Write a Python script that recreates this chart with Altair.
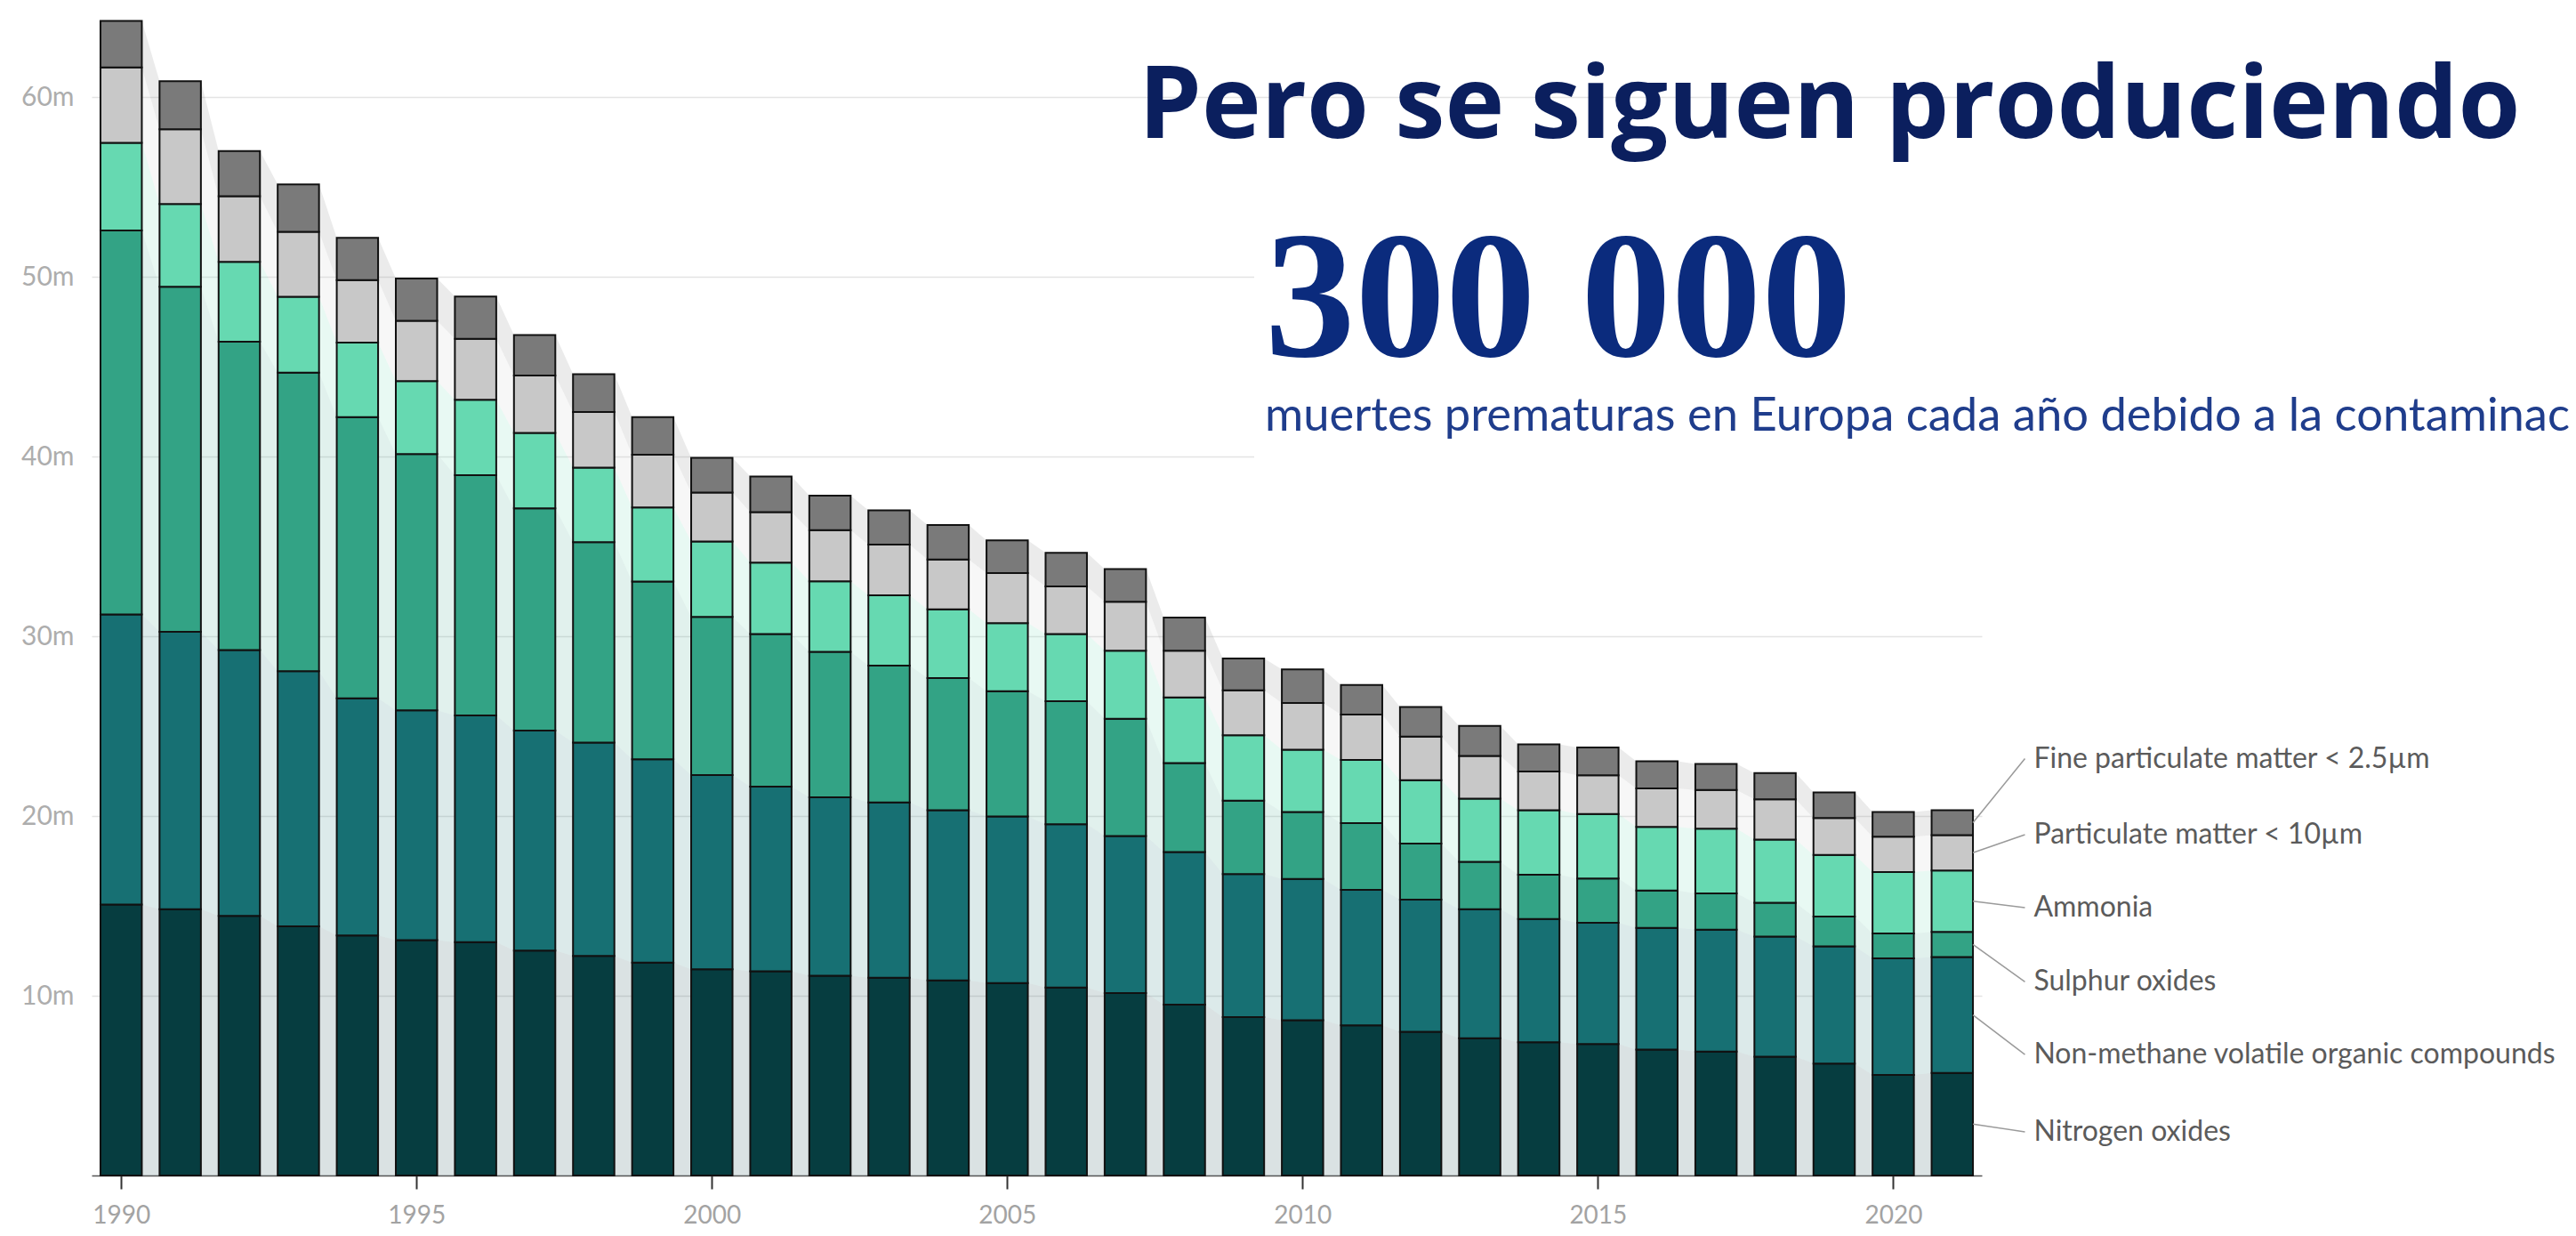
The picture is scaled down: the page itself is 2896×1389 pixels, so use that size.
import altair as alt
import pandas as pd

# ---------------- data ----------------
years = list(range(1990, 2022))
pollutants = [
    "Nitrogen oxides",
    "Non-methane volatile organic compounds",
    "Sulphur oxides",
    "Ammonia",
    "Particulate matter < 10µm",
    "Fine particulate matter < 2.5µm",
]
colors = ["#063d40", "#177073", "#33a385", "#66d9b1", "#c8c8c8", "#7a7a7a"]

nox = [15.07, 14.82, 14.44, 13.86, 13.35, 13.10, 12.98, 12.51, 12.22, 11.84,
       11.47, 11.36, 11.12, 11.00, 10.85, 10.70, 10.46, 10.15, 9.51, 8.81,
       8.64, 8.35, 7.99, 7.63, 7.41, 7.31, 7.00, 6.89, 6.61, 6.23, 5.60, 5.71]
nmvoc = [16.14, 15.43, 14.79, 14.20, 13.20, 12.78, 12.61, 12.24, 11.86, 11.32,
         10.81, 10.27, 9.92, 9.75, 9.47, 9.28, 9.08, 8.73, 8.48, 7.96,
         7.86, 7.54, 7.36, 7.18, 6.86, 6.75, 6.77, 6.79, 6.68, 6.52, 6.48, 6.44]
sox = [21.37, 19.19, 17.15, 16.60, 15.64, 14.25, 13.37, 12.37, 11.15, 9.89,
       8.80, 8.49, 8.09, 7.62, 7.35, 6.96, 6.84, 6.53, 4.95, 4.08,
       3.72, 3.72, 3.11, 2.64, 2.46, 2.46, 2.08, 2.01, 1.88, 1.65, 1.38, 1.40]
nh3 = [4.87, 4.61, 4.45, 4.23, 4.15, 4.07, 4.19, 4.19, 4.15, 4.11,
       4.19, 3.98, 3.93, 3.91, 3.83, 3.79, 3.74, 3.79, 3.66, 3.64,
       3.47, 3.51, 3.53, 3.52, 3.59, 3.59, 3.54, 3.61, 3.52, 3.43, 3.42, 3.42]
pm10 = [4.19, 4.15, 3.65, 3.61, 3.48, 3.35, 3.40, 3.19, 3.10, 2.94,
        2.73, 2.80, 2.84, 2.82, 2.77, 2.79, 2.65, 2.72, 2.60, 2.50,
        2.60, 2.52, 2.43, 2.37, 2.16, 2.15, 2.15, 2.15, 2.24, 2.06, 1.97, 1.97]
pm25 = [2.59, 2.68, 2.51, 2.64, 2.34, 2.35, 2.35, 2.26, 2.10, 2.09,
        1.92, 1.98, 1.92, 1.91, 1.92, 1.82, 1.87, 1.82, 1.84, 1.77,
        1.87, 1.65, 1.65, 1.67, 1.51, 1.55, 1.51, 1.44, 1.46, 1.42, 1.37, 1.38]

series = [nox, nmvoc, sox, nh3, pm10, pm25]

x_ticks = [1990, 1995, 2000, 2005, 2010, 2015, 2020]
y_ticks = [10, 20, 30, 40, 50, 60]

title_text = "Pero se siguen produciendo"
big_number = "300 000"
subtitle_text = "muertes prematuras en Europa cada año debido a la contaminación"

# layout constants for the end labels (in value units)
label_y = [2.43, 6.73, 10.77, 14.9, 18.96, 23.19]

# ---------------- tables ----------------
rows = []
for k, (name, vals) in enumerate(zip(pollutants, series)):
    for yr, v in zip(years, vals):
        rows.append({"year": yr, "pollutant": name, "value": v, "order": k})
df = pd.DataFrame(rows)

last = [s[-1] for s in series]
mids = []
acc = 0.0
for v in last:
    mids.append(acc + v / 2)
    acc += v
lab = pd.DataFrame({"pollutant": pollutants, "mid": mids, "ly": label_y,
                    "year": [years[-1]] * len(pollutants)})

HALF = 0.35
xscale = alt.Scale(domain=[1989.5, 2021.5], nice=False, zero=False)
yscale = alt.Scale(domain=[0, 65], nice=False)
cscale = alt.Scale(domain=pollutants, range=colors)

xaxis = alt.Axis(values=x_ticks, format="d", title=None, grid=False,
                 domainColor="#555555", domainWidth=1.5, tickColor="#333333",
                 tickWidth=2, tickSize=15, labelFont="Lato", labelFontSize=28,
                 labelColor="#a3a3a3", labelPadding=16)
yaxis = alt.Axis(values=y_ticks, labelExpr="datum.value + 'm'", title=None,
                 domain=False, ticks=False, grid=True, gridColor="#e4e4e4",
                 gridWidth=1.5, labelFont="Lato", labelFontSize=30,
                 labelColor="#adadad", labelPadding=20)

base = alt.Chart(df).transform_stack(
    stack="value", groupby=["year"], sort=[alt.SortField("order", order="ascending")],
    as_=["lo", "hi"],
)

area = base.transform_calculate(
    a=f"datum.year - {HALF}", b=f"datum.year + {HALF}"
).transform_fold(["a", "b"], as_=["side", "xpos"]).mark_area(opacity=0.15).encode(
    x=alt.X("xpos:Q", scale=xscale, axis=xaxis),
    y=alt.Y("lo:Q", scale=yscale, axis=yaxis),
    y2="hi:Q",
    color=alt.Color("pollutant:N", scale=cscale, legend=None),
)

bars = base.transform_calculate(
    xl=f"datum.year - {HALF}", xr=f"datum.year + {HALF}"
).mark_bar(stroke="#111111", strokeWidth=2).encode(
    x=alt.X("xl:Q", scale=xscale, axis=xaxis),
    x2="xr:Q",
    y=alt.Y("lo:Q", scale=yscale, axis=yaxis),
    y2="hi:Q",
    color=alt.Color("pollutant:N", scale=cscale, legend=None),
)

one = pd.DataFrame({"k": [0]})
box = alt.Chart(one).mark_rect(color="white").encode(
    x=alt.value(1307), x2=alt.value(2900), y=alt.value(222), y2=alt.value(532)
)

lab_base = alt.Chart(lab).transform_calculate(
    x0=f"datum.year + {HALF}", x1="datum.year + 1.23", tx="datum.year + 1.38"
)
rules = lab_base.mark_rule(color="#9a9a9a", strokeWidth=1.5).encode(
    x=alt.X("x0:Q", scale=xscale, axis=xaxis),
    x2="x1:Q",
    y=alt.Y("mid:Q", scale=yscale, axis=yaxis),
    y2="ly:Q",
)
texts = lab_base.mark_text(align="left", baseline="middle", font="Lato",
                           fontSize=32, color="#5b5b5b").encode(
    x=alt.X("tx:Q", scale=xscale, axis=xaxis),
    y=alt.Y("ly:Q", scale=yscale, axis=yaxis),
    text="pollutant:N",
)

t1 = alt.Chart(pd.DataFrame({"t": [title_text]})).mark_text(
    align="left", baseline="alphabetic", font="Open Sans", fontWeight="bold",
    fontSize=113, color="#0b1f5e"
).encode(x=alt.value(1177), y=alt.value(147), text="t:N")

t2 = alt.Chart(pd.DataFrame({"t": [big_number]})).mark_text(
    align="left", baseline="alphabetic", font="Liberation Serif", fontWeight="bold",
    fontSize=203, color="#0b2b7d"
).encode(x=alt.value(1319), y=alt.value(392), text="t:N")

t3 = alt.Chart(pd.DataFrame({"t": [subtitle_text]})).mark_text(
    align="left", baseline="alphabetic", font="Lato", fontSize=52.5, color="#1f3d8c"
).encode(x=alt.value(1319), y=alt.value(476), text="t:N")

chart = alt.layer(area, bars, box, rules, texts, t1, t2, t3).properties(
    width=2125, height=1313,
    padding={"left": 95, "right": 660, "top": 0, "bottom": 60},
    autosize=alt.AutoSizeParams(type="none"),
).configure_view(stroke=None)

chart.save("out.html", embed_options={"renderer": "svg", "actions": False})
